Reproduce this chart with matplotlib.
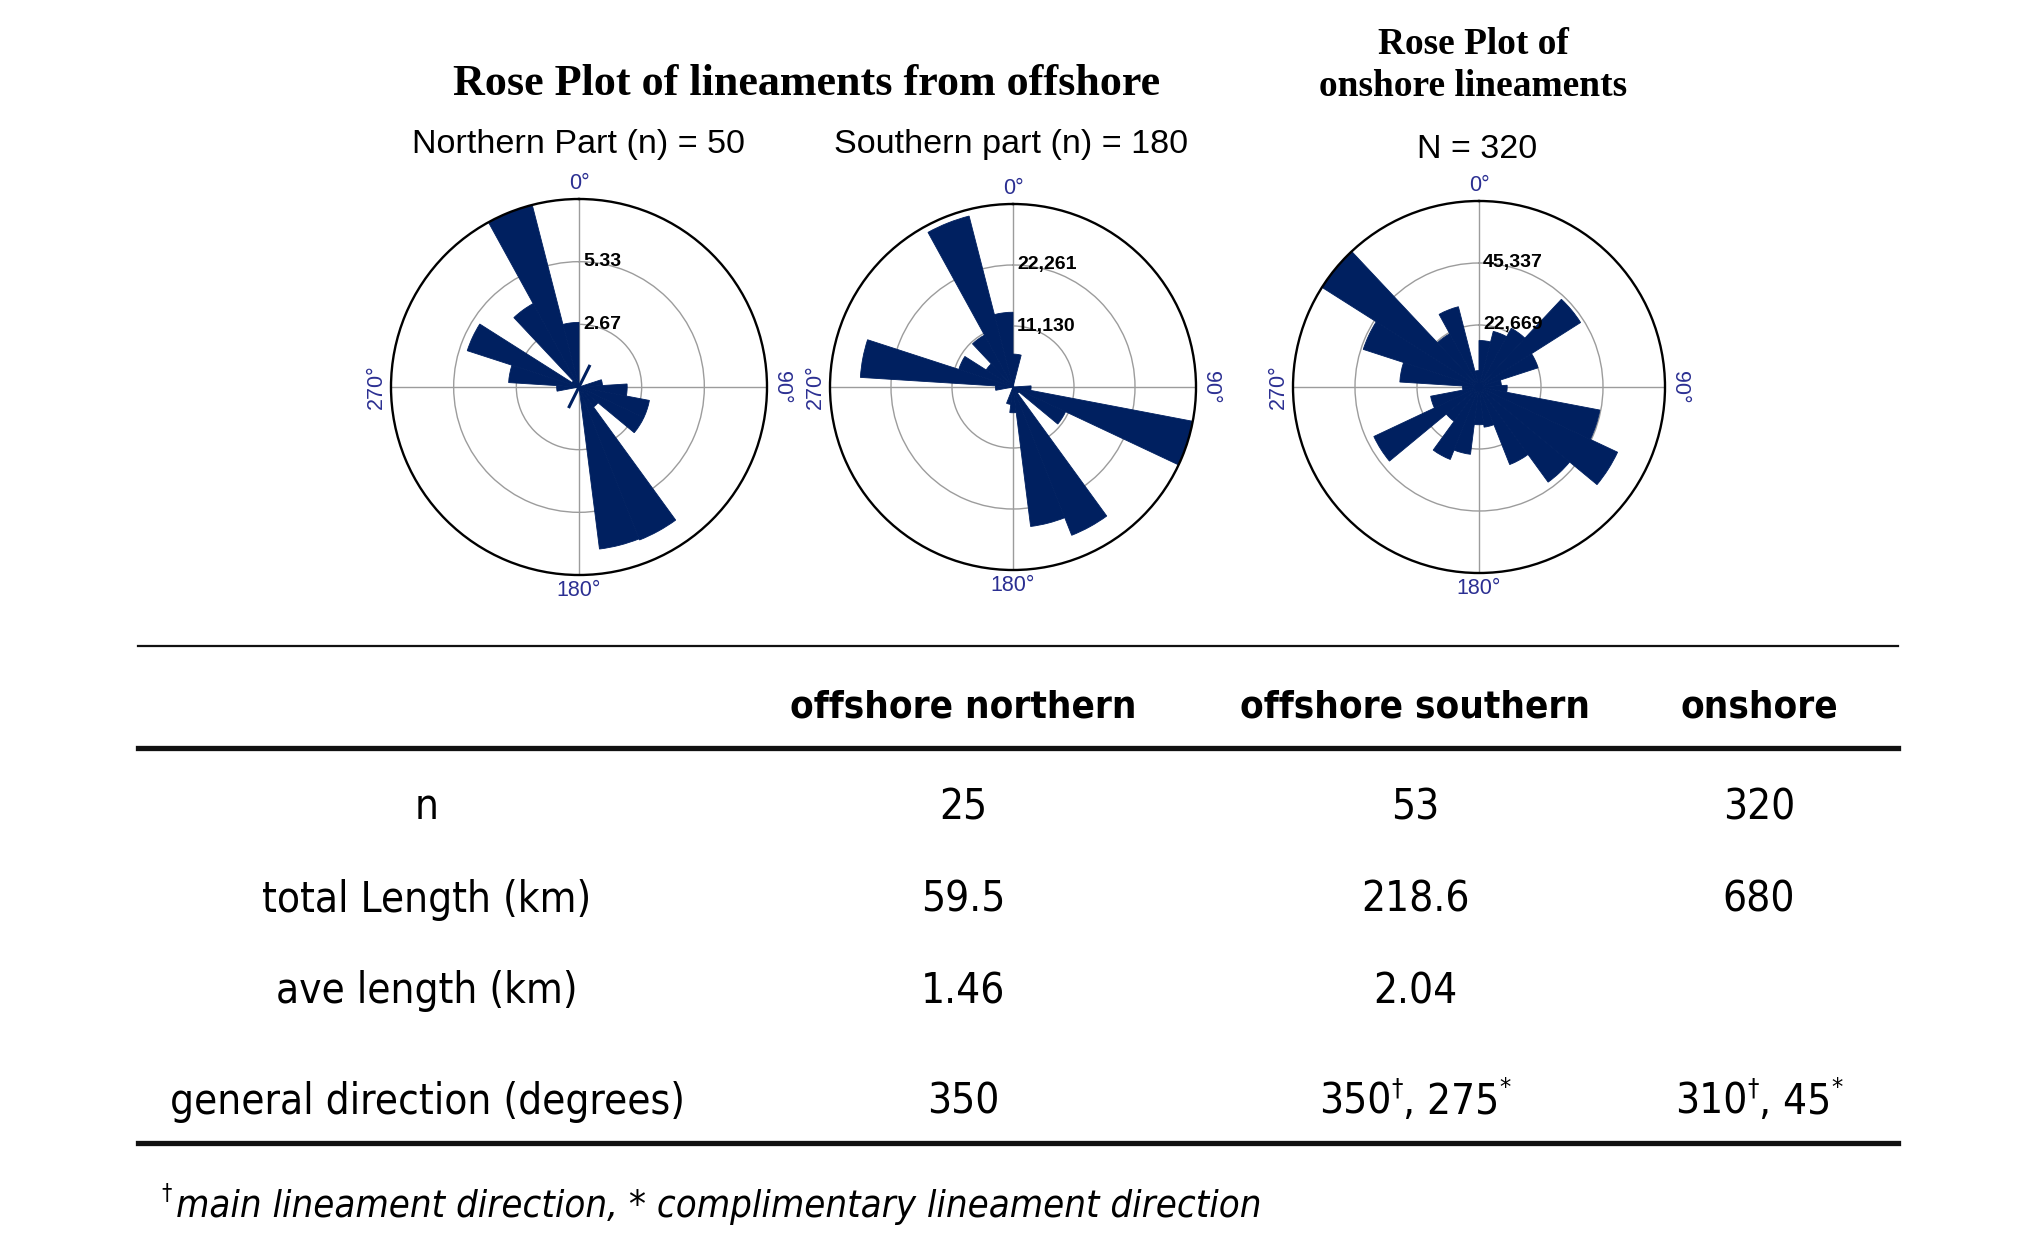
import numpy as np
import matplotlib.pyplot as plt
from matplotlib import font_manager as fm

W, H = 2041, 1242

# rose diagrams: 25 sectors of 14.4 deg, clockwise from north
bin_deg = 14.4
bin_starts = np.arange(25) * bin_deg

north_vals = [0, 0, 0, 0, 0, 1.0, 2.05, 3.05, 3.05, 1.05, 7.0, 6.95, 0,
              0, 0, 0, 0, 0, 0.95, 3.0, 5.0, 0.35, 4.05, 8.0, 2.75]
south_vals = [6000, 0, 0, 0, 0, 0, 3300, 33391, 10600, 1400, 29100, 25650, 4700,
              3200, 0, 0, 0, 0, 3200, 27900, 10400, 5800, 10800, 32200, 13640]
onshore_vals = [17000, 21000, 24500, 44000, 22700, 8200, 10300, 45000, 56000, 43000,
                30500, 14800, 13800, 24800, 28500, 15500, 42500, 18000, 6000, 29000,
                44500, 68006, 22200, 30300, 6000]

north_max, south_max, onshore_max = 8.0, 33391, 68006
north_rings = ["2.67", "5.33"]
south_rings = ["11,130", "22,261"]
onshore_rings = ["22,669", "45,337"]

# thin single-direction lines in the northern plot
spike_dirs = [26.5, 206.5]
spike_lens = [1.05, 1.0]

# table
col_heads = ["offshore northern", "offshore southern", "onshore"]
row_names = ["n", "total Length (km)", "ave length (km)", "general direction (degrees)"]
n_vals = ["25", "53", "320"]
total_len = ["59.5", "218.6", "680"]
ave_len = ["1.46", "2.04", ""]
gen_dir = [[("350", False)],
           [("350", False), ("\u2020", True), (", 275", False), ("*", True)],
           [("310", False), ("\u2020", True), (", 45", False), ("*", True)]]

bar_col = "#002060"
lab_col = "#2b2f92"

names = {f.name for f in fm.fontManager.ttflist}
if "Liberation Sans Narrow" in names:
    tab_font = dict(family="Liberation Sans Narrow")
else:
    tab_font = dict(family="DejaVu Sans", stretch="condensed")

fig = plt.figure(figsize=(W / 100, H / 100), dpi=100)
ov = fig.add_axes([0, 0, 1, 1])
ov.set_xlim(0, W)
ov.set_ylim(H, 0)
ov.axis("off")
renderer = fig.canvas.get_renderer()


def fit(t, width):
    w = t.get_window_extent(renderer).width
    t.set_fontsize(t.get_fontsize() * width / w)
    return t


def rose(cx, cy, R, vals, rmax, rings):
    ax = fig.add_axes([(cx - R) / W, 1 - (cy + R) / H, 2 * R / W, 2 * R / H],
                      projection="polar")
    ax.set_theta_zero_location("N")
    ax.set_theta_direction(-1)
    ax.bar(np.radians(bin_starts), vals, width=np.radians(bin_deg), align="edge",
           color=bar_col, edgecolor=bar_col, linewidth=0.6, zorder=2)
    ax.set_ylim(0, rmax)
    ax.set_thetagrids([0, 90, 180, 270], labels=[""] * 4)
    ax.set_rgrids([rmax / 3, 2 * rmax / 3], labels=["", ""])
    ax.grid(color="#9c9c9c", lw=1.0)
    ax.set_axisbelow(True)
    ax.spines["polar"].set_linewidth(1.7)
    ax.spines["polar"].set_color("black")
    for k, s in enumerate(rings):
        ax.annotate(s, xy=(0, rmax * (k + 1) / 3), xytext=(3, 0), textcoords="offset points",
                    ha="left", va="center", fontsize=14, fontweight="bold",
                    family="Liberation Sans", zorder=5)
    for ang, off, rot in [(0, (0, 11), 0), (90, (10.5, 0), -90),
                          (180, (0, -11), 0), (270, (-10.5, 0), 90)]:
        ax.annotate(f"{ang}\u00b0", xy=(np.radians(ang), rmax), xytext=off,
                    textcoords="offset points", ha="center", va="center", rotation=rot,
                    fontsize=15.5, color=lab_col, family="Liberation Sans",
                    annotation_clip=False)
    return ax


ax1 = rose(579, 387, 188, north_vals, north_max, north_rings)
for d, l in zip(spike_dirs, spike_lens):
    ax1.plot([np.radians(d)] * 2, [0, l], color=bar_col, lw=2.2, solid_capstyle="butt", zorder=3)
rose(1013, 387, 183, south_vals, south_max, south_rings)
rose(1479, 387, 186, onshore_vals, onshore_max, onshore_rings)

# titles
serif = dict(family="Liberation Serif", fontweight="bold", ha="center", va="center")
fit(ov.text(807, 84, "Rose Plot of lineaments from offshore", fontsize=30, **serif), 706)
t2 = fit(ov.text(1473, 87, "onshore lineaments", fontsize=30, **serif), 307)
ov.text(1473, 44, "Rose Plot of", fontsize=t2.get_fontsize(), **serif)

sans = dict(family="Liberation Sans", ha="center", va="center")
fit(ov.text(579, 145, "Northern Part (n) = 50", fontsize=24, **sans), 333)
fit(ov.text(1011, 145, "Southern part (n) = 180", fontsize=24, **sans), 354)
fit(ov.text(1477, 149, "N = 320", fontsize=24, **sans), 120)

# table rules
ov.plot([138, 1898], [646, 646], color="#111111", lw=1.6)
ov.plot([138, 1898], [748, 748], color="#111111", lw=3.8)
ov.plot([138, 1898], [1143, 1143], color="#111111", lw=3.8)

col_x = [963, 1415, 1759]
lab_x = 427
row_y = [819, 912, 1003, 1114]
head_y = 717

ref = fit(ov.text(lab_x, row_y[1], row_names[1], fontsize=30, ha="center",
                  va="baseline", **tab_font), 329)
fs = ref.get_fontsize()
for y, s in zip(row_y, row_names):
    if s != row_names[1]:
        ov.text(lab_x, y, s, fontsize=fs, ha="center", va="baseline", **tab_font)

h0 = fit(ov.text(col_x[0], head_y, col_heads[0], fontsize=30, fontweight="bold",
                 ha="center", va="baseline", **tab_font), 346)
for x, s in zip(col_x[1:], col_heads[1:]):
    ov.text(x, head_y, s, fontsize=h0.get_fontsize(), fontweight="bold",
            ha="center", va="baseline", **tab_font)

for y, vals in zip(row_y[:3], [n_vals, total_len, ave_len]):
    for x, s in zip(col_x, vals):
        ov.text(x, y, s, fontsize=fs, ha="center", va="baseline", **tab_font)


def pieces_text(xc, yb, pieces, size, **kw):
    em = size * 100 / 72
    arts = []
    for s, sup in pieces:
        arts.append(ov.text(0, yb - (0.45 * em if sup else 0), s,
                            fontsize=size * (0.6 if sup else 1), ha="left", va="baseline",
                            **tab_font, **kw))
    widths = [a.get_window_extent(renderer).width for a in arts]
    x = xc - sum(widths) / 2
    for a, w in zip(arts, widths):
        a.set_x(x)
        x += w


for x, pcs in zip(col_x, gen_dir):
    pieces_text(x, row_y[3], pcs, fs)

# footnote
fn = fit(ov.text(176, 1217, "main lineament direction, * complimentary lineament direction",
                 fontsize=28, style="italic", ha="left", va="baseline", **tab_font), 1087)
ov.text(161, 1217 - 0.45 * fn.get_fontsize() * 100 / 72, "\u2020",
        fontsize=fn.get_fontsize() * 0.6, ha="left", va="baseline", **tab_font)

fig.savefig("out.png", dpi=100, facecolor="white")
